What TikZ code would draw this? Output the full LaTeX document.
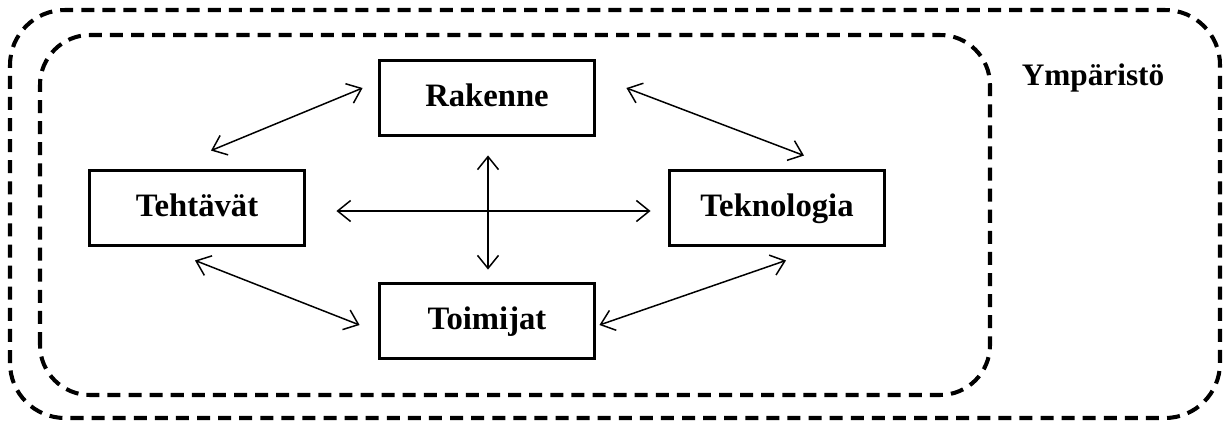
\documentclass[tikz,border=0pt]{standalone}
\usepackage{fontspec}
\setmainfont{Liberation Serif}
\usetikzlibrary{positioning, arrows.meta}

\begin{document}
\begin{tikzpicture}
[
    node distance=2.2cm and 5.8cm, on grid,
    part_node/.style={rectangle, draw=black, line width=2.2pt, minimum width=4.3cm, minimum height=1.5cm, text height=12.5pt, text depth=2.5pt, font=\fontsize{18.6}{22}\selectfont\bfseries},
    frame_line/.style={draw=black, line width=2.3pt, dash pattern=on 7.4pt off 4.6pt, rounded corners=1.1cm},
    link/.style={{Straight Barb[length=2.6mm, width=4.2mm]}-{Straight Barb[length=2.6mm, width=4.2mm]}, line width=0.85pt, color=black},
]
    \useasboundingbox (0,0) rectangle (24.6,8.56);
    % environment and organisation frames
    \draw[frame_line] (0.2,0.2) rectangle (24.4,8.36);
    \draw[frame_line, rounded corners=1cm] (0.8,0.66) rectangle (19.8,7.86);
    \node[font=\fontsize{17.8}{21}\selectfont\bfseries] (ymparisto) at (21.86,7.0) {Ympäristö};

    \node[part_node] (rakenne) at (9.74,6.6) {Rakenne} ;
    \node[part_node] (tehtavat) [below left = of rakenne] {Tehtävät} ;
    \node[part_node] (teknologia) [below right = of rakenne] {Teknologia} ;
    \node[part_node] (toimijat) [below = 4.46cm of rakenne] {Toimijat} ;

    \draw[link] ([xshift=0.28cm, yshift=0.36cm]tehtavat.north) -- ([xshift=-0.3cm, yshift=0.2cm]rakenne.west) ;
    \draw[link] ([xshift=0.6cm, yshift=0.2cm]rakenne.east) -- ([xshift=0.54cm, yshift=0.26cm]teknologia.north) ;
    \draw[link, shorten <=0.6cm, shorten >=0.34cm] ([yshift=-0.06cm]tehtavat.east) -- ([yshift=-0.06cm]teknologia.west) ;
    \draw[link, shorten <=0.36cm, shorten >=0.24cm] ([xshift=0.02cm]rakenne.south) -- ([xshift=0.02cm]toimijat.north) ;
    \draw[link] ([xshift=-0.04cm, yshift=-0.26cm]tehtavat.south) -- ([xshift=-0.36cm, yshift=-0.08cm]toimijat.west) ;
    \draw[link] ([xshift=0.06cm, yshift=-0.08cm]toimijat.east) -- ([xshift=0.18cm, yshift=-0.26cm]teknologia.south) ;
\end{tikzpicture}
\end{document}
